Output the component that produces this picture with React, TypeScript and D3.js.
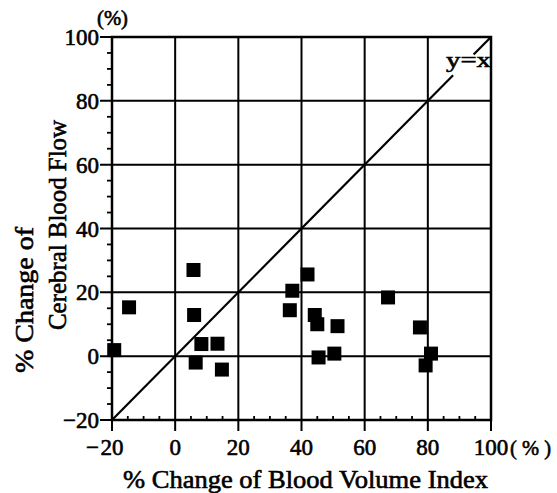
import React from "react";
import * as d3 from "d3";

const xTicks = [-20, 0, 20, 40, 60, 80, 100];
const yTicks = [-20, 0, 20, 40, 60, 80, 100];
const xTickLabels = ["−20", "0", "20", "40", "60", "80", "100"];
const yTickLabels = ["−20", "0", "20", "40", "60", "80", "100"];
const minorStep = 5;

// % change of blood volume index (x) and % change of cerebral blood flow (y)
const bvi = [-19.3, -14.6, 5.8, 6.0, 8.3, 6.5, 13.4, 14.8, 41.9, 37.1, 36.3, 44.2, 45.0, 51.4, 45.4, 50.4, 67.4, 77.5, 81.0, 79.3];
const cbf = [1.9, 15.3, 27.0, 12.9, 3.8, -2.0, 3.9, -4.2, 25.6, 20.5, 14.4, 12.9, 10.0, 9.4, -0.4, 0.8, 18.4, 9.0, 0.8, -2.9];

const identityGap = [88, 94.5];
const xTitle = "% Change of Blood Volume Index";
const yTitle1 = "% Change of";
const yTitle2 = "Cerebral Blood Flow";

const W = 557;
const H = 493;
const L = 112, R = 491, T = 37, B = 420;
const FONT = '"Liberation Serif", "Times New Roman", serif';

export default function App() {
  const x = d3.scaleLinear().domain([-20, 100]).range([L, R]);
  const y = d3.scaleLinear().domain([-20, 100]).range([B, T]);
  const minors = d3.range(-20, 100 + 0.001, minorStep).filter((v) => v % 20 !== 0);
  const sq = 14;
  const diag = d3.line<number>().x((v) => x(v)).y((v) => y(v));
  const txt = { fill: "#000", stroke: "#000", strokeWidth: 0.6 };

  return (
    <svg width={W} height={H} style={{ position: "absolute", left: 0, top: 0, background: "#fff", fontFamily: FONT }}>
      <rect x={0} y={0} width={W} height={H} fill="#fff" />
      {/* grid */}
      {xTicks.map((t) => (
        <line key={"gx" + t} x1={x(t)} x2={x(t)} y1={T} y2={B + 11} stroke="#000" strokeWidth={2} />
      ))}
      {yTicks.map((t) => (
        <line key={"gy" + t} x1={L - 12} x2={R} y1={y(t)} y2={y(t)} stroke="#000" strokeWidth={2} />
      ))}
      {/* minor ticks */}
      {minors.map((m) => (
        <line key={"mx" + m} x1={x(m)} x2={x(m)} y1={B} y2={B - 4} stroke="#000" strokeWidth={1.8} />
      ))}
      {minors.map((m) => (
        <line key={"my" + m} x1={L} x2={L - 5} y1={y(m)} y2={y(m)} stroke="#000" strokeWidth={1.8} />
      ))}
      {/* frame */}
      <rect x={L} y={T} width={R - L} height={B - T} fill="none" stroke="#000" strokeWidth={2.5} />
      {/* identity line */}
      <path d={diag([-20, identityGap[0]]) || ""} stroke="#000" strokeWidth={2.2} fill="none" />
      <path d={diag([identityGap[1], 100]) || ""} stroke="#000" strokeWidth={2.2} fill="none" />
      <text x={446} y={67} fontSize={22} textLength={45} lengthAdjust="spacingAndGlyphs" {...txt}>y=x</text>
      {/* points */}
      {bvi.map((v, i) => (
        <rect key={"p" + i} x={x(v) - sq / 2} y={y(cbf[i]) - sq / 2} width={sq} height={sq} fill="#000" />
      ))}
      {/* x tick labels */}
      {xTicks.map((t, i) => {
        const lab = xTickLabels[i];
        const neg = lab.startsWith("−");
        const body = neg ? lab.slice(1) : lab;
        return (
          <g key={"xl" + t}>
            <text x={x(t)} y={455} fontSize={23} textAnchor="middle" {...txt}>{body}</text>
            {neg && (
              <text x={x(t) - 13} y={455} fontSize={23} textAnchor="end" {...txt}>−</text>
            )}
          </g>
        );
      })}
      <text x={510} y={455} fontSize={22} textLength={41} lengthAdjust="spacingAndGlyphs" {...txt}>( % )</text>
      {/* y tick labels */}
      {yTicks.map((t, i) => (
        <text key={"yl" + t} x={99} y={y(t) + 8} fontSize={23} textAnchor="end" {...txt}>{yTickLabels[i]}</text>
      ))}
      <text x={97} y={25} fontSize={20} textLength={31} lengthAdjust="spacingAndGlyphs" {...txt}>(%)</text>
      {/* titles */}
      <text x={123} y={488} fontSize={25} textLength={365} lengthAdjust="spacingAndGlyphs" {...txt}>{xTitle}</text>
      <text transform="translate(33,373) rotate(-90)" fontSize={25} textLength={146} lengthAdjust="spacingAndGlyphs" {...txt}>{yTitle1}</text>
      <text transform="translate(66,330) rotate(-90)" fontSize={25} textLength={210} lengthAdjust="spacingAndGlyphs" {...txt}>{yTitle2}</text>
    </svg>
  );
}
